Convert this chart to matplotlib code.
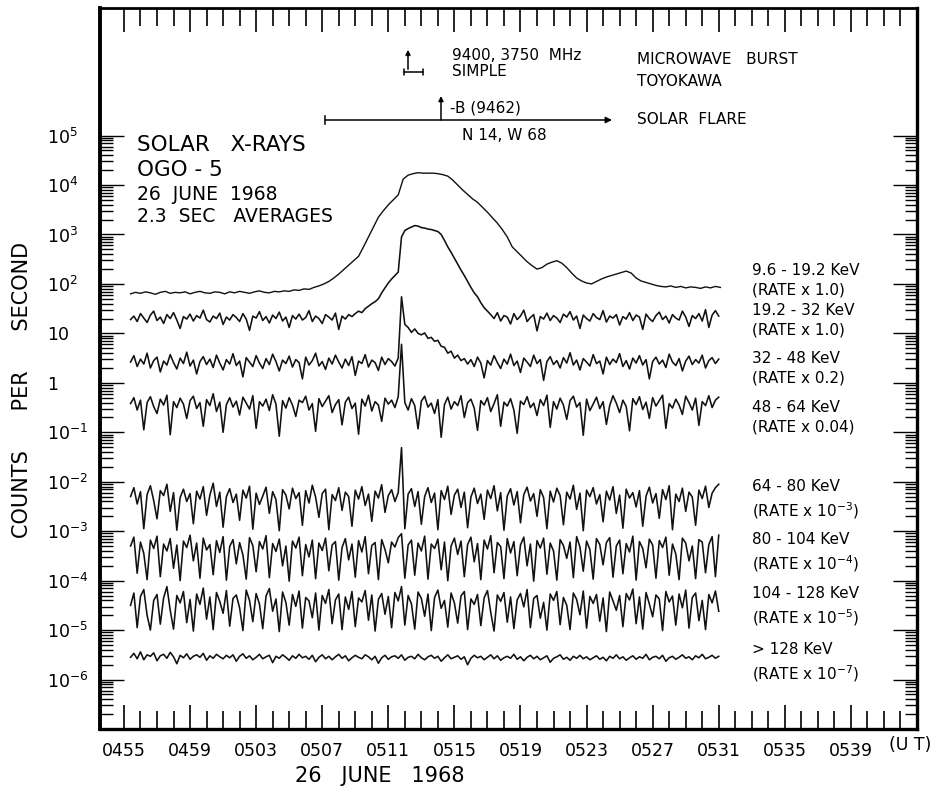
import numpy as np
import matplotlib.pyplot as plt
from matplotlib.ticker import FixedLocator, FixedFormatter, NullFormatter

plt.rcParams['mathtext.default'] = 'regular'

# sample times, minutes after 04:55 UT
t_soft = np.linspace(0.4, 36.1, 120)   # 9.6-19.2 keV channel
t_hard = np.linspace(0.4, 36.0, 179)   # all other channels

# log10 of counts per second (already multiplied by the rate factor)
kev_9_19 = [1.80, 1.83, 1.81, 1.84, 1.82, 1.79, 1.83, 1.85, 1.81, 1.83,
            1.82, 1.84, 1.80, 1.83, 1.85, 1.82, 1.81, 1.84, 1.83, 1.80,
            1.84, 1.82, 1.85, 1.83, 1.81, 1.84, 1.86, 1.83, 1.82, 1.85,
            1.84, 1.86, 1.85, 1.88, 1.87, 1.90, 1.89, 1.93, 1.96, 2.00,
            2.05, 2.12, 2.20, 2.29, 2.38, 2.47, 2.56, 2.75, 2.95, 3.15,
            3.35, 3.48, 3.60, 3.70, 3.80, 4.12, 4.20, 4.23, 4.25, 4.24,
            4.24, 4.24, 4.23, 4.21, 4.18, 4.10, 4.00, 3.90, 3.81, 3.72,
            3.65, 3.55, 3.45, 3.34, 3.23, 3.10, 2.95, 2.75, 2.65, 2.55,
            2.45, 2.37, 2.30, 2.33, 2.40, 2.44, 2.47, 2.42, 2.33, 2.22,
            2.12, 2.06, 2.02, 2.00, 2.05, 2.10, 2.14, 2.17, 2.20, 2.23,
            2.26, 2.22, 2.12, 2.06, 2.03, 2.00, 1.97, 1.95, 1.94, 1.96,
            1.93, 1.95, 1.92, 1.94, 1.93, 1.91, 1.94, 1.92, 1.95, 1.93]

kev_19_32 = [1.28, 1.35, 1.24, 1.40, 1.31, 1.22, 1.37, 1.45, 1.26, 1.33,
             1.20, 1.38, 1.30, 1.42, 1.27, 1.10, 1.34, 1.29, 1.39, 1.25,
             1.36, 1.31, 1.47, 1.28, 1.23, 1.35, 1.30, 1.41, 1.18, 1.33,
             1.27, 1.38, 1.32, 1.24, 1.40, 1.29, 1.06, 1.35, 1.31, 1.44,
             1.26, 1.34, 1.21, 1.37, 1.30, 1.43, 1.25, 1.33, 1.12, 1.36,
             1.29, 1.39, 1.27, 1.32, 1.46, 1.24, 1.35, 1.30, 1.20, 1.38,
             1.33, 1.27, 1.41, 1.08, 1.35, 1.29, 1.38, 1.34,
             1.40, 1.45, 1.42, 1.50, 1.55, 1.60, 1.64, 1.70, 1.82, 1.92,
             2.02, 2.10, 2.17, 2.24,
             2.95, 3.08, 3.12, 3.15, 3.18, 3.17, 3.14, 3.13, 3.11, 3.10,
             3.08, 3.06, 3.00, 2.88, 2.75, 2.64, 2.52, 2.40, 2.28, 2.17,
             2.05, 1.93, 1.82, 1.74, 1.62, 1.52, 1.45, 1.38,
             1.30, 1.42, 1.25, 1.36, 1.33, 1.19, 1.40, 1.28, 1.35, 1.47,
             1.24, 1.32, 1.38, 1.05, 1.34, 1.29, 1.41, 1.26, 1.36, 1.31,
             1.22, 1.39, 1.33, 1.44, 1.27, 1.35, 1.10, 1.37, 1.30, 1.25,
             1.40, 1.32, 1.28, 1.46, 1.23, 1.35, 1.31, 1.38, 1.17, 1.34,
             1.29, 1.42, 1.26, 1.37, 1.33, 1.08, 1.39, 1.30, 1.24, 1.36,
             1.43, 1.28, 1.35, 1.21, 1.38, 1.31, 1.27, 1.45, 1.33, 1.14,
             1.36, 1.30, 1.40, 1.25, 1.48, 1.12, 1.37, 1.46, 1.35]

kev_32_48 = [0.42, 0.55, 0.33, 0.48, 0.38, 0.60, 0.30, 0.45, 0.52, 0.22,
             0.44, 0.36, 0.57, 0.41, 0.28, 0.50, 0.39, 0.62, 0.34, 0.46,
             0.18, 0.43, 0.53, 0.37, 0.48, 0.31, 0.56, 0.40, 0.26, 0.47,
             0.38, 0.59, 0.35, 0.44, 0.12, 0.51, 0.42, 0.33, 0.55, 0.40,
             0.29, 0.49, 0.37, 0.58, 0.43, 0.24, 0.46, 0.39, 0.54, 0.32,
             0.47, 0.41, 0.08, 0.52, 0.36, 0.45, 0.60, 0.34, 0.43, 0.27,
             0.50, 0.38, 0.56, 0.42, 0.30, 0.48, 0.35, 0.53, 0.15, 0.44,
             0.39, 0.57, 0.32, 0.46, 0.41, 0.25, 0.52, 0.37, 0.49, 0.43,
             0.34, 0.50,
             1.74, 1.18, 1.12, 1.02, 1.09, 1.00, 0.97, 1.01, 0.90, 0.92,
             0.84, 0.86, 0.74, 0.72, 0.60, 0.64, 0.50, 0.56, 0.45, 0.49,
             0.38, 0.47, 0.33, 0.52, 0.40, 0.10, 0.45, 0.36,
             0.55, 0.41, 0.29, 0.48, 0.38, 0.58, 0.35, 0.44, 0.21, 0.50,
             0.42, 0.33, 0.56, 0.39, 0.47, 0.05, 0.43, 0.53, 0.37, 0.45,
             0.30, 0.51, 0.40, 0.61, 0.36, 0.46, 0.26, 0.49, 0.42, 0.34,
             0.57, 0.39, 0.44, 0.18, 0.52, 0.37, 0.48, 0.41, 0.59, 0.33,
             0.45, 0.28, 0.50, 0.40, 0.55, 0.36, 0.47, 0.08, 0.43, 0.52,
             0.38, 0.46, 0.31, 0.58, 0.42, 0.35, 0.49, 0.24, 0.44, 0.54,
             0.37, 0.47, 0.40, 0.56, 0.30, 0.45, 0.51, 0.39, 0.48]

kev_48_64 = [-0.42, -0.30, -0.55, -0.35, -0.95, -0.40, -0.28, -0.48, -0.62, -0.33,
             -0.45, -0.25, -1.05, -0.38, -0.50, -0.31, -0.43, -0.72, -0.36, -0.27,
             -0.52, -0.40, -0.88, -0.34, -0.46, -0.22, -0.58, -0.39, -1.00, -0.44,
             -0.30, -0.49, -0.37, -0.65, -0.29, -0.41, -0.53, -0.26, -0.92, -0.38,
             -0.47, -0.33, -0.56, -0.24, -0.43, -1.08, -0.36, -0.51, -0.30, -0.45,
             -0.68, -0.35, -0.40, -0.27, -0.55, -0.42, -0.98, -0.32, -0.48, -0.37,
             -0.26, -0.60, -0.44, -0.34, -0.85, -0.39, -0.29, -0.52, -0.41, -1.04,
             -0.33, -0.47, -0.25, -0.57, -0.38, -0.45, -0.78, -0.31, -0.43, -0.35,
             -0.50, -0.28, 0.78, -0.40, -0.55, -0.32, -0.46, -0.93, -0.37, -0.27,
             -0.49, -0.41, -0.62, -0.34, -1.10, -0.44, -0.29, -0.53, -0.38, -0.46,
             -0.26, -0.70, -0.40, -0.33, -0.51, -0.96, -0.36, -0.45, -0.30, -0.58,
             -0.42, -0.24, -0.88, -0.39, -0.47, -0.32, -0.55, -1.02, -0.37, -0.44,
             -0.28, -0.50, -0.41, -0.66, -0.34, -0.46, -0.25, -0.90, -0.38, -0.53,
             -0.31, -0.45, -0.74, -0.36, -0.27, -0.49, -0.40, -1.06, -0.33, -0.56,
             -0.43, -0.29, -0.52, -0.38, -0.84, -0.46, -0.26, -0.41, -0.60, -0.35,
             -0.48, -0.97, -0.32, -0.44, -0.28, -0.54, -0.39, -0.72, -0.30, -0.47,
             -0.36, -0.25, -0.92, -0.42, -0.51, -0.33, -0.45, -0.64, -0.27, -0.40,
             -0.55, -0.31, -0.86, -0.38, -0.46, -0.26, -0.50, -0.35, -0.29]

kev_64_80 = [-2.30, -2.12, -2.45, -2.20, -2.95, -2.26, -2.08, -2.38, -2.75, -2.18,
             -2.28, -2.05, -2.60, -2.22, -2.98, -2.32, -2.15, -2.40, -2.24, -2.85,
             -2.19, -2.35, -2.10, -2.68, -2.27, -2.03, -2.50, -2.21, -2.92, -2.30,
             -2.14, -2.42, -2.25, -2.78, -2.17, -2.33, -2.09, -2.96, -2.23, -2.46,
             -2.29, -2.11, -2.64, -2.20, -2.36, -2.99, -2.16, -2.27, -2.55, -2.13,
             -2.34, -2.22, -2.88, -2.18, -2.43, -2.07, -2.31, -2.72, -2.24, -2.15,
             -2.97, -2.26, -2.38, -2.12, -2.58, -2.21, -2.30, -2.90, -2.17, -2.35,
             -2.10, -2.48, -2.25, -2.80, -2.19, -2.33, -2.06, -2.62, -2.28, -2.16,
             -2.40, -2.22, -1.31, -2.95, -2.25, -2.14, -2.50, -2.20, -2.86, -2.30,
             -2.12, -2.42, -2.23, -2.97, -2.18, -2.36, -2.09, -2.66, -2.27, -2.15,
             -2.52, -2.21, -2.93, -2.31, -2.13, -2.44, -2.25, -2.76, -2.17, -2.34,
             -2.08, -2.59, -2.22, -2.98, -2.29, -2.14, -2.47, -2.20, -2.83, -2.26,
             -2.11, -2.39, -2.24, -2.70, -2.16, -2.32, -2.95, -2.19, -2.41, -2.13,
             -2.28, -2.87, -2.21, -2.35, -2.07, -2.56, -2.23, -2.99, -2.17, -2.30,
             -2.12, -2.45, -2.26, -2.81, -2.19, -2.37, -2.10, -2.64, -2.27, -2.94,
             -2.15, -2.33, -2.22, -2.51, -2.18, -2.90, -2.29, -2.11, -2.43, -2.24,
             -2.74, -2.16, -2.36, -2.08, -2.97, -2.25, -2.40, -2.13, -2.60, -2.21,
             -2.31, -2.88, -2.17, -2.34, -2.09, -2.52, -2.23, -2.12, -2.05]

kev_80_104 = [-3.30, -3.12, -3.85, -3.22, -3.45, -3.98, -3.18, -3.35, -3.10, -3.92,
              -3.26, -3.40, -3.15, -3.75, -3.28, -4.00, -3.20, -3.33, -3.08, -3.60,
              -3.24, -3.95, -3.14, -3.38, -3.27, -3.88, -3.19, -3.43, -3.11, -3.99,
              -3.31, -3.17, -3.66, -3.23, -3.48, -3.97, -3.13, -3.29, -3.82, -3.21,
              -3.36, -3.09, -3.94, -3.25, -3.41, -3.16, -3.70, -3.30, -4.01, -3.20,
              -3.34, -3.12, -3.90, -3.27, -3.52, -3.18, -3.96, -3.24, -3.39, -3.14,
              -3.80, -3.28, -3.21, -3.99, -3.33, -3.15, -3.58, -3.26, -3.93, -3.19,
              -3.42, -3.11, -3.86, -3.29, -3.23, -3.98, -3.17, -3.37, -3.64, -3.22,
              -3.32, -3.13, -3.05, -3.95, -3.28, -3.18, -3.89, -3.24, -3.40, -3.10,
              -3.97, -3.26, -3.35, -3.16, -3.78, -3.22, -4.00, -3.30, -3.14, -3.47,
              -3.20, -3.92, -3.27, -3.12, -3.62, -3.25, -3.98, -3.18, -3.36, -3.09,
              -3.84, -3.23, -3.31, -3.96, -3.15, -3.44, -3.21, -3.90, -3.28, -3.12,
              -3.70, -3.26, -4.01, -3.19, -3.34, -3.14, -3.87, -3.24, -3.40, -3.99,
              -3.17, -3.29, -3.55, -3.22, -3.94, -3.11, -3.32, -3.81, -3.20, -3.37,
              -3.97, -3.15, -3.27, -3.68, -3.23, -3.13, -3.93, -3.30, -3.18, -3.86,
              -3.25, -3.42, -3.10, -3.99, -3.21, -3.35, -3.74, -3.16, -3.28, -3.95,
              -3.19, -3.33, -3.12, -3.89, -3.26, -3.46, -3.98, -3.14, -3.24, -3.60,
              -3.30, -3.96, -3.17, -3.22, -3.84, -3.27, -3.11, -3.92, -3.08]

kev_104_128 = [-4.50, -4.25, -4.95, -4.32, -4.18, -4.70, -5.00, -4.40, -4.28, -4.88,
               -4.35, -4.12, -4.60, -4.98, -4.30, -4.45, -4.22, -4.85, -4.38, -5.02,
               -4.27, -4.48, -4.15, -4.78, -4.33, -4.99, -4.24, -4.42, -4.66, -4.20,
               -4.92, -4.36, -4.29, -4.55, -5.01, -4.19, -4.40, -4.83, -4.26, -4.47,
               -4.97, -4.31, -4.16, -4.62, -4.37, -5.03, -4.23, -4.44, -4.90, -4.28,
               -4.52, -4.21, -4.96, -4.34, -4.41, -4.75, -4.25, -5.00, -4.30, -4.46,
               -4.18, -4.87, -4.39, -4.27, -4.99, -4.33, -4.58, -4.22, -4.93, -4.35,
               -4.43, -4.20, -4.80, -4.29, -5.02, -4.38, -4.26, -4.68, -4.32, -4.95,
               -4.24, -4.41, -4.12, -4.90, -4.30, -4.47, -4.98, -4.23, -4.36, -4.72,
               -4.27, -5.01, -4.34, -4.19, -4.56, -4.40, -4.94, -4.25, -4.45, -4.86,
               -4.31, -4.22, -4.99, -4.37, -4.48, -4.28, -4.91, -4.35, -4.20, -4.64,
               -5.02, -4.29, -4.42, -4.24, -4.84, -4.33, -4.97, -4.39, -4.26, -4.53,
               -4.18, -4.95, -4.36, -4.30, -4.76, -4.44, -5.00, -4.27, -4.40, -4.22,
               -4.89, -4.34, -4.50, -4.99, -4.25, -4.38, -4.69, -4.21, -4.96, -4.32,
               -4.46, -4.28, -4.82, -4.35, -5.03, -4.23, -4.41, -4.60, -4.30, -4.93,
               -4.26, -4.39, -4.17, -4.87, -4.33, -4.98, -4.24, -4.47, -4.73, -4.29,
               -4.37, -5.01, -4.22, -4.43, -4.31, -4.90, -4.27, -4.55, -4.19, -4.96,
               -4.34, -4.25, -4.81, -4.40, -4.99, -4.28, -4.45, -4.21, -4.62]

kev_128_up = [-5.55, -5.47, -5.58, -5.44, -5.60, -5.50, -5.53, -5.46, -5.62, -5.52,
              -5.49, -5.57, -5.45, -5.54, -5.68, -5.51, -5.56, -5.48, -5.59, -5.53,
              -5.50, -5.55, -5.47, -5.61, -5.52, -5.57, -5.49, -5.54, -5.58, -5.51,
              -5.56, -5.50, -5.63, -5.53, -5.48, -5.57, -5.52, -5.60, -5.55, -5.49,
              -5.58, -5.54, -5.51, -5.66, -5.53, -5.57, -5.50, -5.55, -5.61, -5.52,
              -5.57, -5.49, -5.56, -5.53, -5.59, -5.51, -5.64, -5.55, -5.50, -5.58,
              -5.53, -5.60, -5.54, -5.49, -5.57, -5.52, -5.62, -5.56, -5.51, -5.55,
              -5.58, -5.50, -5.54, -5.60, -5.53, -5.67, -5.56, -5.51, -5.59, -5.54,
              -5.52, -5.57, -5.50, -5.61, -5.55, -5.53, -5.58, -5.49, -5.56, -5.60,
              -5.54, -5.51, -5.57, -5.53, -5.63, -5.56, -5.50, -5.58, -5.55, -5.52,
              -5.59, -5.54, -5.70, -5.57, -5.51, -5.56, -5.53, -5.60, -5.55, -5.50,
              -5.58, -5.52, -5.61, -5.56, -5.53, -5.57, -5.49, -5.59, -5.54, -5.62,
              -5.55, -5.51, -5.58, -5.53, -5.60, -5.56, -5.52, -5.65, -5.57, -5.54,
              -5.50, -5.59, -5.55, -5.61, -5.53, -5.57, -5.51, -5.58, -5.54, -5.60,
              -5.56, -5.52, -5.59, -5.55, -5.62, -5.53, -5.57, -5.50, -5.58, -5.54,
              -5.61, -5.56, -5.52, -5.59, -5.54, -5.57, -5.49, -5.60, -5.55, -5.53,
              -5.58, -5.51, -5.63, -5.56, -5.53, -5.59, -5.55, -5.50, -5.57, -5.54,
              -5.60, -5.52, -5.56, -5.49, -5.58, -5.55, -5.51, -5.57, -5.53]

hard_series = [kev_19_32, kev_32_48, kev_48_64, kev_64_80,
               kev_80_104, kev_104_128, kev_128_up]

band_labels = ['9.6 - 19.2 KeV\n(RATE x 1.0)', '19.2 - 32 KeV\n(RATE x 1.0)',
               '32 - 48 KeV\n(RATE x 0.2)', '48 - 64 KeV\n(RATE x 0.04)',
               '64 - 80 KeV\n(RATE x $10^{-3}$)', '80 - 104 KeV\n(RATE x $10^{-4}$)',
               '104 - 128 KeV\n(RATE x $10^{-5}$)', '> 128 KeV\n(RATE x $10^{-7}$)']
label_rows = [280, 320, 368, 417, 500, 553, 607, 663]   # pixel rows of the labels

time_labels = ['0455', '0459', '0503', '0507', '0511', '0515',
               '0519', '0523', '0527', '0531', '0535', '0539']
ytick_labels = ['$10^{-6}$', '$10^{-5}$', '$10^{-4}$', '$10^{-3}$', '$10^{-2}$',
                '$10^{-1}$', '1', '10', '$10^{2}$', '$10^{3}$', '$10^{4}$', '$10^{5}$']

fig = plt.figure(figsize=(9.4, 7.96), dpi=100)
ax = fig.add_axes([100 / 940, 67 / 796, 817 / 940, 721 / 796])

ax.plot(t_soft, 10 ** np.array(kev_9_19), color='#111111', lw=1.0)
for s in hard_series:
    ax.plot(t_hard, 10 ** np.array(s), color='#111111', lw=1.15)

ax.set_yscale('log')
ax.set_ylim(1e-7, 10 ** 7.58)
ax.set_xlim(-1.45, 48.0)

# frame
for side, w in [('left', 2.8), ('bottom', 2.4), ('top', 2.0), ('right', 2.4)]:
    ax.spines[side].set_linewidth(w)

ax.xaxis.set_major_locator(FixedLocator(range(0, 45, 4)))
ax.xaxis.set_major_formatter(FixedFormatter(time_labels))
ax.xaxis.set_minor_locator(FixedLocator(range(0, 48)))
ax.tick_params(axis='x', which='both', direction='in', top=True, bottom=True,
               width=1.2, labelsize=12.5, pad=9)
ax.tick_params(axis='x', which='major', length=17)
ax.tick_params(axis='x', which='minor', length=13)

ax.yaxis.set_major_locator(FixedLocator([10.0 ** k for k in range(-6, 6)]))
ax.yaxis.set_major_formatter(FixedFormatter(ytick_labels))
minor_y = [m * 10.0 ** k for k in range(-7, 5) for m in range(2, 10)]
ax.yaxis.set_minor_locator(FixedLocator(minor_y))
ax.yaxis.set_minor_formatter(NullFormatter())
ax.tick_params(axis='y', which='both', direction='in', left=True, right=True, width=1.0)
ax.tick_params(axis='y', which='major', length=17, labelsize=12.5, pad=38)
ax.tick_params(axis='y', which='minor', length=9)
for lbl in ax.get_yticklabels():
    lbl.set_horizontalalignment('left')


def fx(px):
    return (px - 100) / 817


def fy(py):
    return (729 - py) / 721


tr = ax.transAxes
# band labels on the right
for txt, row in zip(band_labels, label_rows):
    ax.text(fx(752), fy(row), txt, transform=tr, fontsize=11, va='center',
            ha='left', linespacing=1.35)

# title block
ax.text(fx(137), fy(145), 'SOLAR   X-RAYS', transform=tr, fontsize=15.5, va='center')
ax.text(fx(137), fy(170), 'OGO - 5', transform=tr, fontsize=15.5, va='center')
ax.text(fx(137), fy(195), '26  JUNE  1968', transform=tr, fontsize=13.5, va='center')
ax.text(fx(137), fy(216), '2.3  SEC   AVERAGES', transform=tr, fontsize=13.5, va='center')

# microwave burst marker
ax.annotate('', xy=(fx(408), fy(47)), xytext=(fx(408), fy(72)), xycoords=tr,
            arrowprops=dict(arrowstyle='-|>', lw=1.1, color='k', mutation_scale=7))
ax.annotate('', xy=(fx(423), fy(72)), xytext=(fx(404), fy(72)), xycoords=tr,
            arrowprops=dict(arrowstyle='|-|, widthA=0.25, widthB=0.25', lw=1.1,
                            color='k', shrinkA=0, shrinkB=0))
ax.text(fx(452), fy(55), '9400, 3750  MHz', transform=tr, fontsize=11, va='center')
ax.text(fx(452), fy(71), 'SIMPLE', transform=tr, fontsize=11, va='center')
ax.text(fx(637), fy(60), 'MICROWAVE   BURST', transform=tr, fontsize=11, va='center')
ax.text(fx(637), fy(81), 'TOYOKAWA', transform=tr, fontsize=11, va='center')

# solar flare marker
ax.annotate('', xy=(fx(612), fy(120)), xytext=(fx(325), fy(120)), xycoords=tr,
            arrowprops=dict(arrowstyle='-|>', lw=1.1, color='k', mutation_scale=9,
                            shrinkA=0, shrinkB=0))
ax.plot([fx(325), fx(325)], [fy(116), fy(124)], transform=tr, color='k', lw=1.1)
ax.annotate('', xy=(fx(441), fy(96)), xytext=(fx(441), fy(120)), xycoords=tr,
            arrowprops=dict(arrowstyle='-|>', lw=1.1, color='k', mutation_scale=7,
                            shrinkA=0, shrinkB=0))
ax.text(fx(450), fy(108), '-B (9462)', transform=tr, fontsize=11, va='center')
ax.text(fx(462), fy(136), 'N 14, W 68', transform=tr, fontsize=11, va='center')
ax.text(fx(637), fy(120), 'SOLAR  FLARE', transform=tr, fontsize=11, va='center')

# axis captions
fig.text(22 / 940, 1 - 390 / 796, 'COUNTS      PER      SECOND', rotation=90,
         fontsize=15, ha='center', va='center')
fig.text(910 / 940, 1 - 745 / 796, '(U T)', fontsize=12.5, ha='center', va='center')
fig.text(380 / 940, 1 - 776 / 796, '26   JUNE   1968', fontsize=15, ha='center', va='center')

fig.savefig('out.png', dpi=100, facecolor='white')
